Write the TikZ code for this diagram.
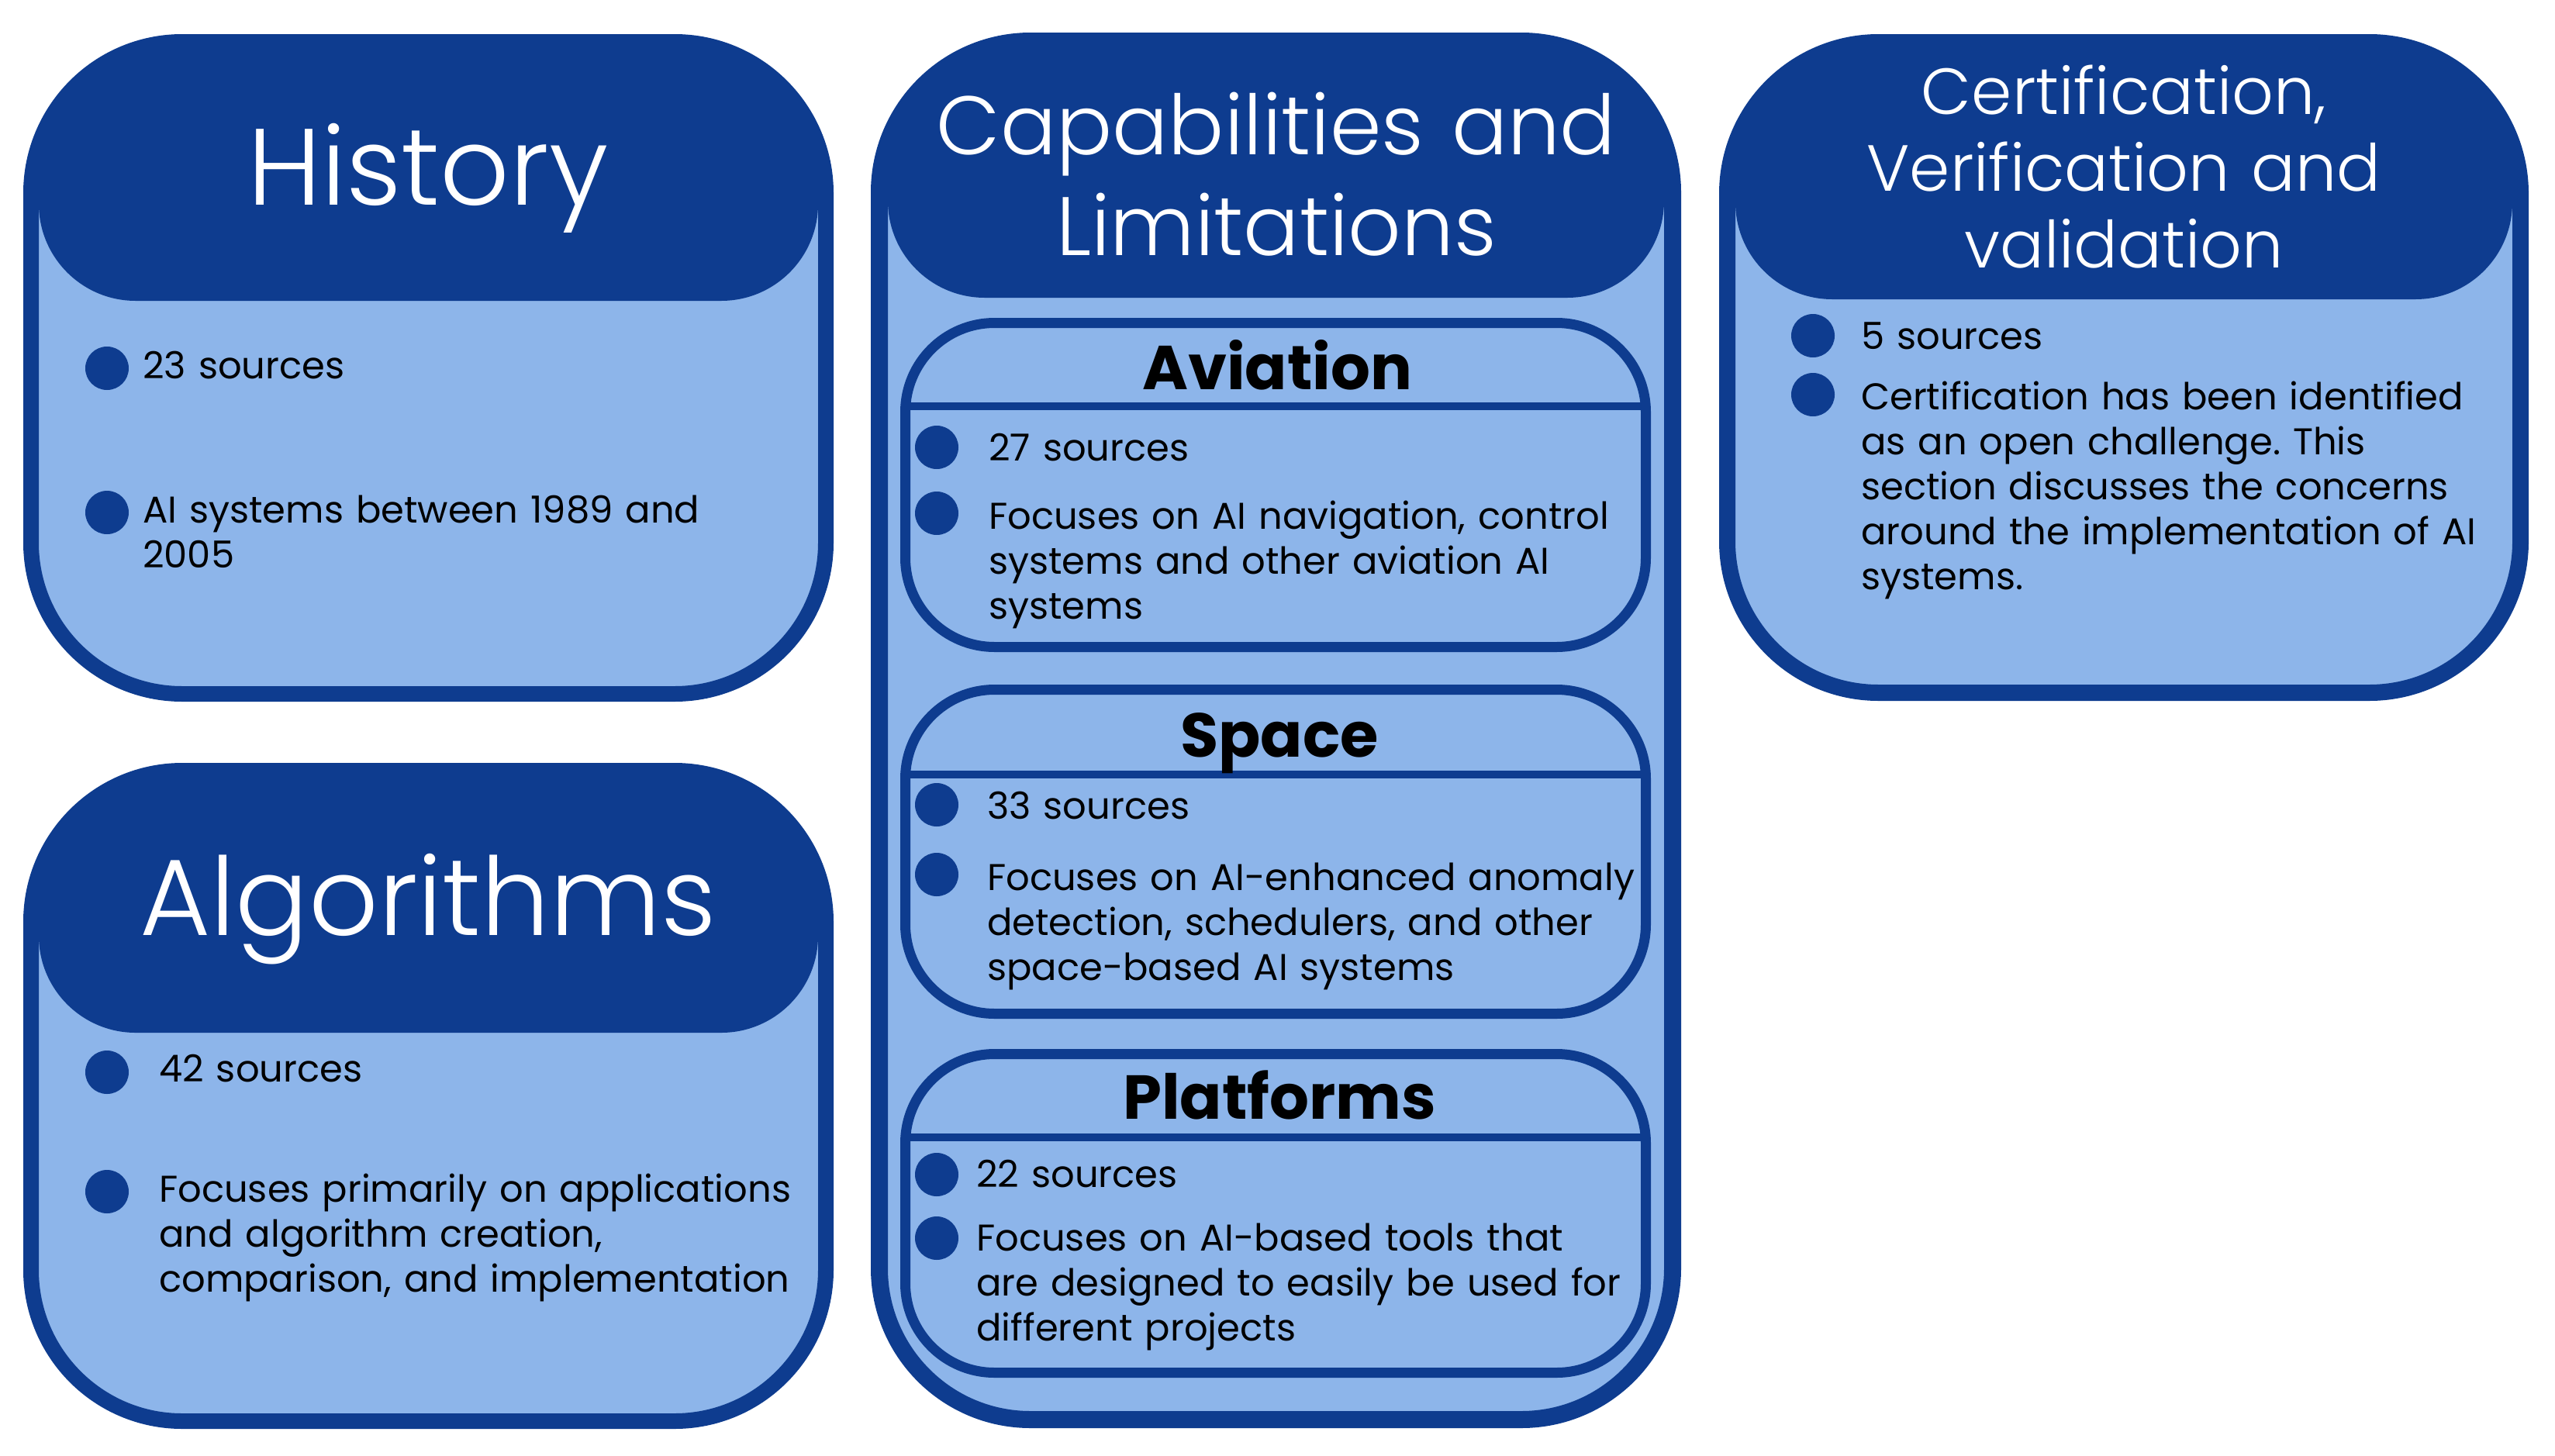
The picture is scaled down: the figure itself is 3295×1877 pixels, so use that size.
\documentclass[tikz,border=0pt]{standalone}
\usepackage{fontspec}
\setmainfont{Poppins}
\IfFontExistsTF{Poppins Light}{\newfontfamily\titlefont{Poppins Light}}{\newfontfamily\titlefont{Poppins}}
\frenchspacing
\definecolor{dark}{RGB}{14,60,143}
\definecolor{light}{RGB}{141,181,234}
\tikzset{
  dot/.style={circle, fill=dark, minimum size=56pt, inner sep=0pt},
  body/.style={anchor=base west, inner sep=0pt, text width=1000pt, align=left, font=\fontsize{48}{58}\selectfont\frenchspacing},
  title/.style={anchor=base, inner sep=0pt, text=white, align=center, text width=1000pt},
  subtitle/.style={anchor=base, inner sep=0pt, font=\fontsize{80}{90}\selectfont\bfseries},
}
\newcommand\mkcard[6]{% x1 y1 x2 y2 headerbottom border
  \fill[light, rounded corners=195pt] (#1+#6/2,#2+#6/2) rectangle (#3-#6/2,#4-#6/2);
  \begin{scope}
    \clip[rounded corners=195pt] (#1+#6/2,#2+#6/2) rectangle (#3-#6/2,#4-#6/2);
    \fill[dark, rounded corners=125pt] (#1+#6,#2-300) rectangle (#3-#6,#5);
  \end{scope}
  \draw[dark, line width=#6pt, rounded corners=195pt] (#1+#6/2,#2+#6/2) rectangle (#3-#6/2,#4-#6/2);
}
\newcommand\mksub[3]{% y1 y2 divider
  \draw[dark, line width=13pt, fill=light, rounded corners=115pt] (1167.5,#1+6.5) rectangle (2122.5,#2-6.5);
  \draw[dark, line width=10pt] (1167.5,#3) -- (2122.5,#3);
}
\begin{document}
\begin{tikzpicture}[x=1pt, y=-1pt]
\useasboundingbox (0,0) rectangle (3295,1877);
\fill[white] (0,0) rectangle (3295,1877);

% History
\mkcard{30}{44}{1075}{905}{388}{20}
\node[title, font=\fontsize{140}{150}\selectfont\titlefont] (histT) at (552,264) {History};
\node[dot] (h1) at (138,475) {};
\node[body] (h1t) at (184,488) {23 sources};
\node[dot] (h2) at (138,661) {};
\node[body] (h2t) at (184,674) {AI systems between 1989 and\\2005};

% Algorithms
\mkcard{30}{984}{1075}{1843}{1332}{20}
\node[title, font=\fontsize{140}{150}\selectfont\titlefont] (algT) at (552,1206) {Algorithms};
\node[dot] (a1) at (138,1383) {};
\node[body] (a1t) at (205,1395) {42 sources};
\node[dot] (a2) at (138,1537) {};
\node[body] (a2t) at (205,1550) {Focuses primarily on applications\\and algorithm creation,\\comparison, and implementation};

% Capabilities and Limitations
\mkcard{1123}{42}{2168}{1842}{384}{22}
\node[title, font=\fontsize{107}{130}\selectfont\titlefont] (capT) at (1646,199) {Capabilities and\\Limitations};

\mksub{410}{841}{524}
\node[subtitle] (avT) at (1647,502) {Aviation};
\node[dot] (v1) at (1208,577) {};
\node[body] (v1t) at (1275,594) {27 sources};
\node[dot] (v2) at (1208,662) {};
\node[body] (v2t) at (1275,682) {Focuses on AI navigation, control\\systems and other aviation AI\\systems};

\mksub{883}{1314}{999}
\node[subtitle] (spT) at (1650,976) {Space};
\node[dot] (s1) at (1208,1038) {};
\node[body] (s1t) at (1273,1056) {33 sources};
\node[dot] (s2) at (1208,1128) {};
\node[body] (s2t) at (1273,1148) {Focuses on AI-enhanced anomaly\\detection, schedulers, and other\\space-based AI systems};

\mksub{1353}{1777}{1467}
\node[subtitle] (plT) at (1650,1443) {Platforms};
\node[dot] (p1) at (1208,1515) {};
\node[body] (p1t) at (1259,1531) {22 sources};
\node[dot] (p2) at (1208,1597) {};
\node[body] (p2t) at (1259,1613) {Focuses on AI-based tools that\\are designed to easily be used for\\different projects};

% Certification
\mkcard{2217}{44}{3261}{904}{386}{21}
\node[title, font=\fontsize{84}{99}\selectfont\titlefont] (cerT) at (2739,147) {Certification,\\Verification and\\validation};
\node[dot] (c1) at (2338,433) {};
\node[body] (c1t) at (2400,450) {5 sources};
\node[dot] (c2) at (2338,509) {};
\node[body] (c2t) at (2400,528) {Certification has been identified\\as an open challenge. This\\section discusses the concerns\\around the implementation of AI\\systems.};
\end{tikzpicture}
\end{document}
